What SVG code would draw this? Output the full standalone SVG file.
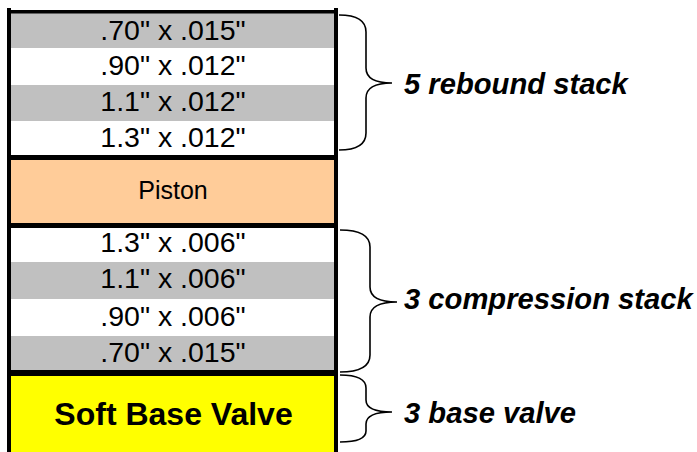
<svg xmlns="http://www.w3.org/2000/svg" width="697" height="452" viewBox="0 0 697 452">
<style>
.dim{font-family:"Liberation Sans",Arial,sans-serif;font-size:28.5px;fill:#000;text-anchor:middle}
.pis{font-family:"Liberation Sans",Arial,sans-serif;font-size:25px;fill:#000;text-anchor:middle}
.base{font-family:"Liberation Sans",Arial,sans-serif;font-size:32px;font-weight:bold;fill:#000;text-anchor:middle}
.lbl{font-family:"Liberation Sans",Arial,sans-serif;font-size:29.2px;font-weight:bold;font-style:italic;fill:#000}
.g{fill:#C0C0C0}
.w{fill:#FFFFFF}
.brace{fill:none;stroke:#000;stroke-width:1.6}
.bd{stroke:#000;fill:none}
</style>
<rect width="697" height="452" fill="#FFFFFF"/>
<g id="rebound-stack">
<rect class="g" x="9" y="12" width="327" height="36"/>
<rect class="w" x="9" y="48" width="327" height="37"/>
<rect class="g" x="9" y="85" width="327" height="36"/>
<rect class="w" x="9" y="121" width="327" height="36"/>
<text class="dim" x="173" y="40">.70" x .015"</text>
<text class="dim" x="173" y="75">.90" x .012"</text>
<text class="dim" x="173" y="111">1.1" x .012"</text>
<text class="dim" x="173" y="147">1.3" x .012"</text>
</g>
<g id="piston">
<rect x="9" y="157" width="327" height="69" fill="#FFCC99"/>
<text class="pis" x="173" y="199">Piston</text>
</g>
<g id="compression-stack">
<rect class="w" x="9" y="226" width="327" height="36"/>
<rect class="g" x="9" y="262" width="327" height="37"/>
<rect class="w" x="9" y="299" width="327" height="37"/>
<rect class="g" x="9" y="336" width="327" height="37"/>
<text class="dim" x="173" y="252">1.3" x .006"</text>
<text class="dim" x="173" y="288">1.1" x .006"</text>
<text class="dim" x="173" y="326">.90" x .006"</text>
<text class="dim" x="173" y="362">.70" x .015"</text>
</g>
<g id="base-valve">
<rect x="9" y="373" width="327" height="85" fill="#FFFF00"/>
<text class="base" x="173.5" y="425">Soft Base Valve</text>
</g>
<g id="borders">
<line class="bd" x1="9" y1="8" x2="9" y2="460" stroke-width="4"/>
<line class="bd" x1="336" y1="8" x2="336" y2="460" stroke-width="4"/>
<line class="bd" x1="7" y1="11.75" x2="338" y2="11.75" stroke-width="3.5"/>
<line class="bd" x1="7" y1="157.5" x2="338" y2="157.5" stroke-width="5"/>
<line class="bd" x1="7" y1="225.5" x2="338" y2="225.5" stroke-width="5"/>
<line class="bd" x1="7" y1="373" x2="338" y2="373" stroke-width="6"/>
</g>
<g id="connectors">
<path class="brace" d="M339,15 Q366,15 366,32 L366,68 Q366,83 392,83 Q366,83 366,98 L366,133 Q366,150 339,150"/>
<path class="brace" d="M340,230 Q370,230 370,247 L370,287 Q370,302 397,302 Q370,302 370,317 L370,355 Q370,372 340,372"/>
<path class="brace" d="M340,375 Q366,375 366,388 L366,400 Q366,412 392,412 Q366,412 366,424 L366,431 Q366,442 340,442"/>
</g>
<g id="labels">
<text class="lbl" x="404" y="94">5 rebound stack</text>
<text class="lbl" x="404" y="309">3 compression stack</text>
<text class="lbl" x="404" y="423">3 base valve</text>
</g>
</svg>
